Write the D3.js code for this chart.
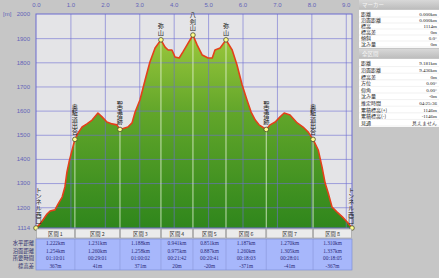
<!DOCTYPE html>
<html><head><meta charset="utf-8">
<script src="https://cdn.jsdelivr.net/npm/d3@7"></script>
<style>
html,body{margin:0;padding:0;background:#c6c6c6;}
svg{display:block;font-family:"Noto Sans CJK JP","Noto Sans",sans-serif;}
.vt{writing-mode:vertical-rl;}
.hz{writing-mode:horizontal-tb;}
</style></head>
<body>
<svg id="c" width="439" height="278"></svg>
<script>
// ---- data ----
const profileKm = [0,0.12,0.2,0.32,0.41,0.55,0.64,0.76,0.84,0.9,0.96,1.05,1.13,1.22,1.34,1.48,1.63,1.8,1.92,2.06,2.21,2.35,2.44,2.67,2.79,2.88,3.02,3.17,3.31,3.46,3.63,3.75,3.84,3.95,4.04,4.16,4.27,4.39,4.56,4.68,4.83,5.0,5.12,5.2,5.35,5.52,5.7,5.84,5.99,6.13,6.25,6.37,6.48,6.69,6.8,6.95,7.09,7.21,7.38,7.59,7.76,7.91,8.05,8.2,8.31,8.4,8.49,8.6,8.75,8.9,9.04,9.181];
const profileElev = [1114,1131,1147,1172,1184,1189,1213,1242,1284,1346,1387,1437,1481,1507,1532,1545,1561,1590,1574,1553,1545,1541,1522,1532,1549,1594,1644,1727,1801,1859,1893,1863,1851,1851,1822,1818,1843,1872,1913,1872,1830,1818,1818,1851,1859,1893,1851,1789,1706,1644,1594,1561,1541,1522,1541,1553,1574,1590,1582,1549,1532,1511,1481,1437,1367,1300,1259,1201,1180,1160,1139,1114];
const markerKm = [0,1.13,2.44,3.63,4.56,5.52,6.69,8.05,9.181];
const markerElev = [1114,1481,1522,1893,1913,1893,1522,1481,1114];
const markerNames = ["トンネル西口","奥駈道出合","聖宝宿跡","弥山","八剣山","弥山","聖宝宿跡","奥駈道出合","トンネル西口"];
const xTicks = [0,1,2,3,4,5,6,7,8,9];
const yTicks = [1114,1200,1300,1400,1500,1600,1700,1800,1900,2000];
const sectionNames = ["区間 1","区間 2","区間 3","区間 4","区間 5","区間 6","区間 7","区間 8"];
const horizDist = ["1.222km","1.231km","1.188km","0.941km","0.851km","1.187km","1.270km","1.310km"];
const slopeDist = ["1.254km","1.260km","1.258km","0.975km","0.887km","1.260km","1.305km","1.337km"];
const sectionTime = ["01:10:01","00:29:01","01:00:02","00:21:42","00:20:41","00:18:03","00:28:01","00:18:05"];
const elevDiff = ["367m","41m","371m","20m","-20m","-371m","-41m","-367m"];
const rowLabels = ["水平距離","沿面距離","所要時間","標高差"];
const markerPanelLabels = ["距離","沿面距離","標高","標高差","傾斜","沈み量"];
const markerPanelValues = ["0.000km","0.000km","1114m","0m","0.0°","0m"];
const totalPanelLabels = ["距離","沿面距離","標高差","方位","仰角","沈み量","推定時間","累積標高(+)","累積標高(-)","見通"];
const totalPanelValues = ["9.181km","9.436km","0m","0.00°","0.00°","-0m","04:25:36","1146m","-1146m","見えません"];

// ---- layout ----
const L=36, R=352, T=14, B=228;
const svg = d3.select("#c");
const x = d3.scaleLinear().domain([0,9.181]).range([L,R]);
const y = d3.scaleLinear().domain([1114,2000]).range([B,T]);
const gridCol = "#6e6ed2", labCol = "#6464b8";

const defs = svg.append("defs");
const g1 = defs.append("linearGradient").attr("id","gf").attr("gradientUnits","userSpaceOnUse")
  .attr("x1",0).attr("y1",T+20).attr("x2",0).attr("y2",B);
g1.append("stop").attr("offset",0).attr("stop-color","#9cc83c");
g1.append("stop").attr("offset",0.4).attr("stop-color","#62a62a");
g1.append("stop").attr("offset",1).attr("stop-color","#2f861c");
const g2 = defs.append("linearGradient").attr("id","gt").attr("x1",0).attr("y1",0).attr("x2",0).attr("y2",1);
g2.append("stop").attr("offset",0).attr("stop-color","#d8d8d8");
g2.append("stop").attr("offset",1).attr("stop-color","#bdbdbd");

// plot background
svg.append("rect").attr("x",L).attr("y",T).attr("width",R-L).attr("height",B-T).attr("fill","#e4e4e7");

// area
const pts = profileKm.map((d,i)=>[d,profileElev[i]]);
svg.append("path").datum(pts)
  .attr("d", d3.area().x(d=>x(d[0])).y0(B).y1(d=>y(d[1])))
  .attr("fill","url(#gf)");

// grid
const gx = svg.append("g").attr("transform",`translate(0,${B})`)
  .call(d3.axisBottom(x).tickValues(xTicks.slice(1)).tickSize(-(B-T)).tickFormat(""));
gx.select(".domain").remove();
gx.selectAll("line").attr("stroke",gridCol).attr("stroke-opacity",0.6);
const gy = svg.append("g").attr("transform",`translate(${L},0)`)
  .call(d3.axisLeft(y).tickValues(yTicks.slice(1,-1)).tickSize(-(R-L)).tickFormat(""));
gy.select(".domain").remove();
gy.selectAll("line").attr("stroke",gridCol).attr("stroke-opacity",0.6);

// marker vertical lines
svg.append("g").selectAll("line").data(markerKm.slice(1,-1)).join("line")
  .attr("x1",d=>x(d)).attr("x2",d=>x(d)).attr("y1",(d,i)=>y(markerElev[i+1])).attr("y2",B)
  .attr("stroke","#eef8e0").attr("stroke-opacity",0.75).attr("stroke-width",1);

// profile line
svg.append("path").datum(pts)
  .attr("d", d3.line().x(d=>x(d[0])).y(d=>y(d[1])))
  .attr("fill","none").attr("stroke","#e4401a").attr("stroke-width",1.6).attr("stroke-linejoin","round");

// frame
svg.append("rect").attr("x",L).attr("y",T).attr("width",R-L).attr("height",B-T)
  .attr("fill","none").attr("stroke","#6a6ad0").attr("stroke-width",1);

// axes labels
const ax = svg.append("g").attr("transform",`translate(0,${T-4})`)
  .call(d3.axisTop(x).tickValues(xTicks).tickSize(0).tickFormat(d3.format(".1f")));
ax.select(".domain").remove();
ax.selectAll("text").attr("fill",labCol).attr("font-size",6).attr("font-family","Liberation Sans, sans-serif");
const ay = svg.append("g").attr("transform",`translate(${L-3},0)`)
  .call(d3.axisLeft(y).tickValues(yTicks).tickSize(0).tickFormat(d=>d));
ay.select(".domain").remove();
ay.selectAll("text").attr("fill",labCol).attr("font-size",6).attr("font-family","Liberation Sans, sans-serif");
svg.append("text").attr("x",3).attr("y",T+2).text("[m]").attr("fill",labCol).attr("font-size",6)
  .attr("font-family","Liberation Sans, sans-serif");

// markers & vertical labels
const mk = svg.append("g");
markerKm.forEach((d,i)=>{
  const cx = x(d) + (i===0?2.5:(i===markerKm.length-1?-1:0));
  const cy = y(markerElev[i]);
  mk.append("text").attr("class","vt").attr("x",cx).attr("y",cy-4.5)
    .attr("text-anchor","end").attr("font-size",6.2).attr("fill","#1a1a1a").text(markerNames[i]);
});
mk.selectAll("circle").data(markerKm).join("circle")
  .attr("cx",d=>x(d)).attr("cy",(d,i)=>y(markerElev[i])).attr("r",2.3)
  .attr("fill","#ffff8a").attr("stroke","#4a4a30").attr("stroke-width",0.8);

// table
const tb = svg.append("g");
const hdrY = 229, hdrH = 9, bodyY = 239, bodyH = 31;
const bounds = markerKm.map(d=>x(d));
tb.append("rect").attr("x",L).attr("y",bodyY).attr("width",R-L).attr("height",bodyH).attr("fill","#a7b7fb");
sectionNames.forEach((s,i)=>{
  const x0=bounds[i], x1=bounds[i+1], cx=(x0+x1)/2;
  tb.append("rect").attr("x",x0+0.5).attr("y",hdrY).attr("width",x1-x0-1).attr("height",hdrH)
    .attr("fill","#ebebeb").attr("stroke","#9a9a9a").attr("stroke-width",0.6);
  tb.append("text").attr("x",cx).attr("y",hdrY+6.6).attr("text-anchor","middle").attr("font-size",5.3)
    .attr("fill","#333").text(s);
  [horizDist[i],slopeDist[i],sectionTime[i],elevDiff[i]].forEach((v,k)=>{
    tb.append("text").attr("x",cx).attr("y",bodyY+6.3+k*7.4).attr("text-anchor","middle")
      .attr("font-size",5.3).attr("fill","#2a2a7a").attr("font-family","Liberation Serif, serif").text(v);
  });
  if(i>0) tb.append("line").attr("x1",x0).attr("x2",x0).attr("y1",bodyY).attr("y2",bodyY+bodyH)
    .attr("stroke","#8a96d8").attr("stroke-width",0.6);
});
tb.append("rect").attr("x",L).attr("y",bodyY).attr("width",R-L).attr("height",bodyH)
  .attr("fill","none").attr("stroke","#7f8fd8").attr("stroke-width",0.7);
rowLabels.forEach((r,k)=>{
  tb.append("text").attr("x",L-2).attr("y",bodyY+6.3+k*7.4).attr("text-anchor","end")
    .attr("font-size",5.3).attr("fill","#2a2a6a").text(r);
});

// right panel
const P = svg.append("g");
const px0 = 359, px1 = 439;
function section(title, y0, labels, values, step){
  P.append("rect").attr("x",px0).attr("y",y0).attr("width",px1-px0).attr("height",9).attr("fill","url(#gt)");
  P.append("text").attr("class","hz").attr("x",px0+3).attr("y",y0+6.5).attr("font-size",5.5).attr("fill","#f4f4f4").text(title);
  const by = y0+10;
  P.append("rect").attr("x",px0).attr("y",by).attr("width",px1-px0).attr("height",labels.length*step+2).attr("fill","#ffffff");
  labels.forEach((l,k)=>{
    const yy = by + 1 + k*step;
    P.append("line").attr("x1",px0).attr("x2",px1).attr("y1",yy+step).attr("y2",yy+step).attr("stroke","#e2e2e2").attr("stroke-width",0.5);
    P.append("text").attr("class","hz").attr("x",px0+2).attr("y",yy+step-1.3).attr("font-size",5).attr("fill","#222").text(l);
    P.append("text").attr("class","hz").attr("x",px1-2).attr("y",yy+step-1.3).attr("font-size",5).attr("fill","#222")
      .attr("text-anchor","end").attr("font-family","Liberation Serif, serif").text(values[k]);
  });
}
section("マーカー", 0, markerPanelLabels, markerPanelValues, 6);
section("全区間", 49, totalPanelLabels, totalPanelValues, 6.6);
</script>
</body></html>
